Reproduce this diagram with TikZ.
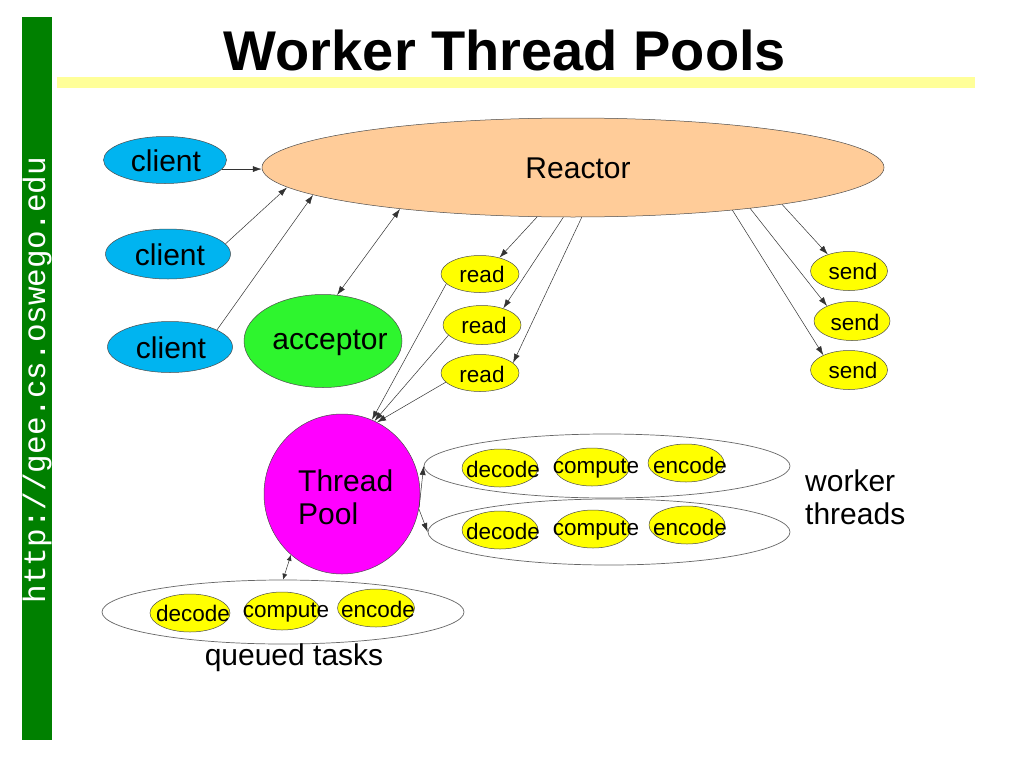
\documentclass[tikz,border=0pt]{standalone}
\usepackage{fontspec}
\setmainfont{Liberation Sans}
\newfontfamily\monofont{Liberation Mono}
\usetikzlibrary{shapes.geometric,arrows.meta,calc}
\definecolor{barGreen}{RGB}{0,128,0}
\definecolor{barYellow}{RGB}{255,255,153}
\definecolor{reactorFill}{RGB}{255,204,153}
\definecolor{clientFill}{RGB}{0,180,240}
\definecolor{accFill}{RGB}{46,245,46}
\definecolor{poolFill}{RGB}{255,0,255}
\definecolor{taskFill}{RGB}{255,255,0}
\tikzset{
  ell/.style={ellipse, draw=black!70, line width=0.5pt, inner sep=0pt},
  group/.style={ellipse, draw=black!60, line width=0.7pt, fill=white, inner sep=0pt, minimum width=364pt, minimum height=64pt},
  task/.style={ell, fill=taskFill, minimum width=76pt, minimum height=38pt},
  small/.style={font=\fontsize{22.5}{26}\selectfont, inner sep=0pt},
  big/.style={font=\fontsize{30}{33}\selectfont, inner sep=0pt},
  arr/.style={draw=black!80, line width=0.5pt, -{Latex[length=9pt,width=6pt]}},
  darr/.style={draw=black!80, line width=0.5pt, {Latex[length=9pt,width=6pt]}-{Latex[length=9pt,width=6pt]}},
}
\begin{document}
\begin{tikzpicture}[x=1pt,y=-1pt]
\path[fill=white] (0,0) rectangle (1019,776);
\useasboundingbox (0,0) rectangle (1019,776);
% side bar and title
\fill[barGreen] (22,17) rectangle (52,740);
\node[rotate=90, text=white, font=\monofont\fontsize{31}{31}\selectfont, inner sep=0pt] (url) at (37,380) {http://gee.cs.oswego.edu};
\fill[barYellow] (57,77) rectangle (975,88);
\node[font=\bfseries\fontsize{56}{60}\selectfont, inner sep=0pt] (title) at (505,50) {Worker Thread Pools};

% reactor
\node[ell, fill=reactorFill, minimum width=622pt, minimum height=99pt] (reactor) at (573,167.5) {};
\node[big] (reactorT) at (578,168) {Reactor};

% clients
\node[ell, fill=clientFill, minimum width=123pt, minimum height=47pt] (c1) at (165,160) {};
\node[big] (c1t) at (166,161) {client};
\node[ell, fill=clientFill, minimum width=125pt, minimum height=50pt] (c2) at (168,254) {};
\node[big] (c2t) at (170,255) {client};
\node[ell, fill=clientFill, minimum width=125pt, minimum height=51pt] (c3) at (170,347) {};
\node[big] (c3t) at (171,348) {client};

% acceptor
\node[ell, fill=accFill, minimum width=158pt, minimum height=93pt] (acc) at (323,341) {};
\node[big] (acct) at (330,343) {acceptor};

% reads
\node[task, minimum width=78pt, minimum height=37pt] (r1) at (480,274) {};
\node[small] (r1t) at (482,274) {read};
\node[task, minimum width=78pt, minimum height=39pt] (r2) at (482,325) {};
\node[small] (r2t) at (484,325) {read};
\node[task, minimum width=78pt, minimum height=37pt] (r3) at (480,373) {};
\node[small] (r3t) at (482,374) {read};

% sends
\node[task, minimum width=77pt, minimum height=39pt] (s1) at (849,271) {};
\node[small] (s1t) at (853,271) {send};
\node[task, minimum width=76pt, minimum height=39pt] (s2) at (852,321) {};
\node[small] (s2t) at (855,322) {send};
\node[task, minimum width=77pt, minimum height=39pt] (s3) at (849,370) {};
\node[small] (s3t) at (853,370) {send};

% thread pool
\node[ell, fill=poolFill, minimum width=156pt, minimum height=160pt] (pool) at (342,494) {};
\node[big, anchor=west, align=left] (poolt) at (298,497) {Thread\\Pool};

% worker groups
\node[group, minimum width=366pt, minimum height=64pt] (w1) at (607,466) {};
\node[task] (w1a) at (500,468) {};
\node[task, minimum width=75pt] (w1b) at (592,467) {};
\node[task] (w1c) at (686,463) {};
\node[small] (w1at) at (503,469) {decode};
\node[small] (w1bt) at (596,469) {compute};
\node[small] (w1ct) at (690,465) {encode};

\node[group, minimum width=362pt, minimum height=66pt] (w2) at (609,532) {};
\node[task] (w2a) at (500,530) {};
\node[task, minimum width=75pt] (w2b) at (593,529) {};
\node[task] (w2c) at (687,525) {};
\node[small] (w2at) at (503,531) {decode};
\node[small] (w2bt) at (596,531) {compute};
\node[small] (w2ct) at (690,527) {encode};

\node[big, anchor=west, align=left] (wt) at (805,497) {worker\\threads};

% queued tasks
\node[group, minimum width=362pt, minimum height=64pt] (q) at (283,612) {};
\node[task, minimum width=80pt] (qa) at (190,613) {};
\node[task] (qb) at (282,611) {};
\node[task, minimum width=77pt] (qc) at (376,608) {};
\node[small] (qat) at (193,613) {decode};
\node[small] (qbt) at (286,613) {compute};
\node[small] (qct) at (378,609) {encode};
\node[big] (qt) at (294,658) {queued tasks};

% connectors
\draw[arr] (c1.-9) -- (c1.-9 -| reactor.west);
\draw[arr] (c2.10) -- ($(reactor.center)+(-286,20)$);
\draw[arr] (c3.20) -- ($(reactor.center)+(-260,27.5)$);
\draw[darr] (acc.73) -- ($(reactor.center)+(-173,41.5)$);
\draw[arr] (reactor.234) -- (r1.40);
\draw[arr] (reactor.259) -- (r2.38);
\draw[arr] (reactor.280) -- (r3.17);
\draw[arr] (reactor.350.5) -- (s1.142);
\draw[arr] (reactor.347.3) -- (s2.149);
\draw[arr] (reactor.345.6) -- (s3.150);
\draw[arr] (r1.196) -- (pool.68);
\draw[arr] (r2.197) -- (pool.66);
\draw[arr] (r3.195) -- (pool.64.5);
\draw[arr] (pool.-10) -- (w1.west);
\draw[arr] (pool.-11) -- (w2.west);
\draw[draw=black!80, line width=0.5pt, {Latex[length=6pt,width=5pt]}-{Latex[length=6pt,width=5pt]}] (pool.230) -- (q.north);
\end{tikzpicture}
\end{document}
